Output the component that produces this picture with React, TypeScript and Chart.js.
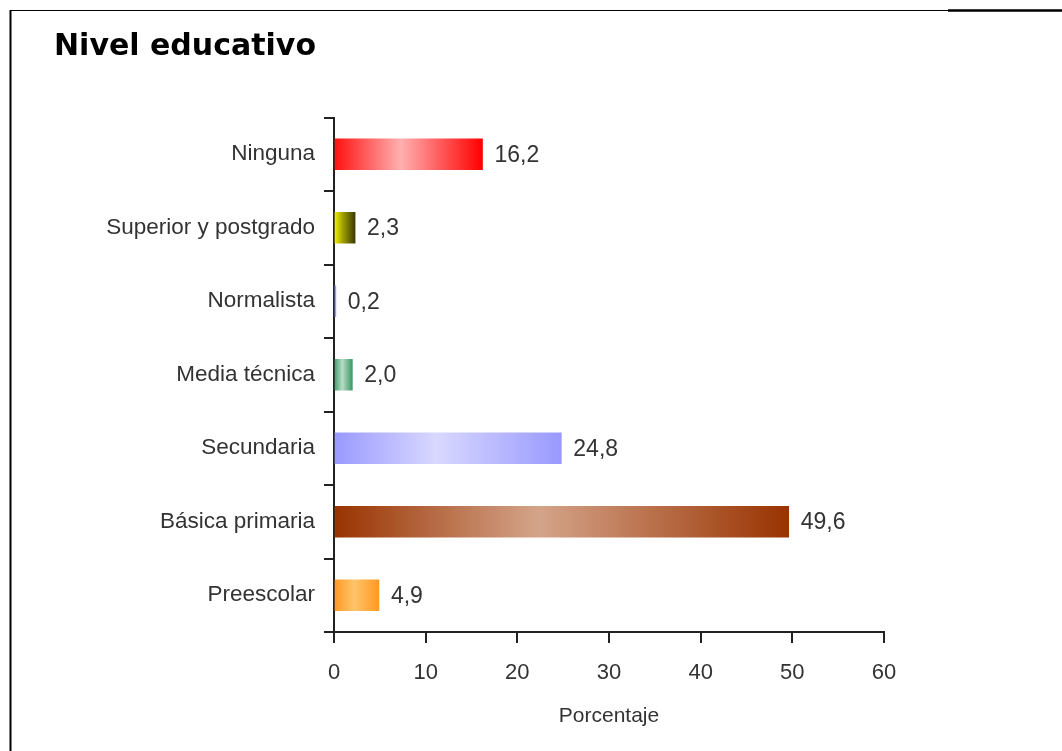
import React, { useEffect, useRef } from "react";
import { Chart, registerables } from "chart.js";

Chart.register(...registerables);

const categories = [
  "Ninguna",
  "Superior y postgrado",
  "Normalista",
  "Media técnica",
  "Secundaria",
  "Básica primaria",
  "Preescolar",
];
const values = [16.2, 2.3, 0.2, 2.0, 24.8, 49.6, 4.9];
// gradient stops (left -> middle -> right) per category
const gradientStops: string[][] = [
  ["#ff1010", "#ffb0b0", "#ff0000"],
  ["#f5f500", "#9a9a00", "#3a3a00"],
  ["#8c8cff", "#b0b0ff", "#8c8cff"],
  ["#3d9966", "#b8dcc6", "#3d9966"],
  ["#9999ff", "#d8d8ff", "#9999ff"],
  ["#993300", "#d4a48a", "#993300"],
  ["#ff9922", "#ffc46a", "#ff9922"],
];
const xTicks = [0, 10, 20, 30, 40, 50, 60];
const title = "Nivel educativo";
const xTitle = "Porcentaje";

const FONT = "'Liberation Sans', Arial, sans-serif";
const TITLE_FONT = "'DejaVu Sans', Verdana, sans-serif";

export default function App() {
  const ref = useRef<HTMLCanvasElement | null>(null);

  useEffect(() => {
    if (!ref.current) return;

    const framePlugin = {
      id: "frame",
      afterDraw(chart: any) {
        const ctx = chart.ctx;
        ctx.save();
        ctx.strokeStyle = "#000";
        ctx.lineWidth = 1;
        ctx.beginPath();
        ctx.moveTo(10, 10.5);
        ctx.lineTo(948, 10.5);
        ctx.stroke();
        ctx.lineWidth = 2.5;
        ctx.beginPath();
        ctx.moveTo(948, 10.5);
        ctx.lineTo(1062, 10.5);
        ctx.stroke();
        ctx.lineWidth = 2;
        ctx.beginPath();
        ctx.moveTo(10.5, 10);
        ctx.lineTo(10.5, 751);
        ctx.stroke();
        ctx.restore();
      },
    };

    const labelPlugin = {
      id: "valueLabels",
      afterDatasetsDraw(chart: any) {
        const ctx = chart.ctx;
        const meta = chart.getDatasetMeta(0);
        ctx.save();
        ctx.font = `23px ${FONT}`;
        ctx.fillStyle = "#333333";
        ctx.textAlign = "left";
        ctx.textBaseline = "middle";
        meta.data.forEach((el: any, i: number) => {
          const txt = values[i].toFixed(1).replace(".", ",");
          ctx.fillText(txt, el.x + 12, el.y + 1);
        });
        ctx.restore();
      },
    };

    const chart = new Chart(ref.current, {
      type: "bar",
      data: {
        labels: categories,
        datasets: [
          {
            data: values,
            barThickness: 31,
            borderWidth: 0,
            backgroundColor: (c: any) => {
              const ch = c.chart;
              const i = c.dataIndex;
              const stops = gradientStops[i] || ["#999", "#ccc", "#999"];
              if (!ch.chartArea || !ch.scales.x) return stops[0];
              const xs = ch.scales.x;
              const x0 = xs.getPixelForValue(0);
              const x1 = xs.getPixelForValue(values[i]);
              if (!isFinite(x0) || !isFinite(x1) || x1 - x0 < 0.5) return stops[0];
              const g = ch.ctx.createLinearGradient(x0, 0, x1, 0);
              g.addColorStop(0, stops[0]);
              g.addColorStop(0.45, stops[1]);
              g.addColorStop(1, stops[2]);
              return g;
            },
          },
        ],
      },
      options: {
        indexAxis: "y",
        animation: false,
        responsive: false,
        maintainAspectRatio: false,
        layout: { padding: { left: 54, right: 178, top: 0, bottom: 0 } },
        plugins: {
          legend: { display: false },
          tooltip: { enabled: false },
          title: {
            display: true,
            text: title,
            align: "start",
            color: "#000",
            font: { family: TITLE_FONT, size: 30, weight: "bold" },
            padding: { top: 29, bottom: 52.5 },
          },
        },
        scales: {
          x: {
            min: 0,
            max: 60,
            afterBuildTicks: (s: any) => {
              s.ticks = xTicks.map((v) => ({ value: v }));
            },
            afterFit: (s: any) => {
              s.height = 119;
            },
            grid: {
              drawOnChartArea: false,
              drawTicks: true,
              tickLength: 11,
              color: "#222",
              lineWidth: 2,
            },
            border: { display: true, color: "#222", width: 2 },
            ticks: {
              color: "#333",
              padding: 17,
              font: { family: FONT, size: 22 },
            },
            title: {
              display: true,
              text: xTitle,
              color: "#333",
              font: { family: FONT, size: 21 },
              padding: { top: 0, bottom: 22 },
            },
          },
          y: {
            afterFit: (s: any) => {
              s.width = 280;
            },
            grid: {
              drawOnChartArea: false,
              drawTicks: true,
              tickLength: 10,
              color: "#222",
              lineWidth: 2,
              offset: true,
            },
            border: { display: true, color: "#222", width: 2 },
            ticks: {
              color: "#333",
              padding: 9,
              font: { family: FONT, size: 22.5 },
            },
          },
        },
      },
      plugins: [framePlugin, labelPlugin],
    } as any);

    return () => chart.destroy();
  }, []);

  return (
    <div style={{ position: "absolute", left: 0, top: 0, width: 1062, height: 751, background: "#fff" }}>
      <canvas ref={ref} width={1062} height={751} style={{ display: "block", width: 1062, height: 751 }} />
    </div>
  );
}
